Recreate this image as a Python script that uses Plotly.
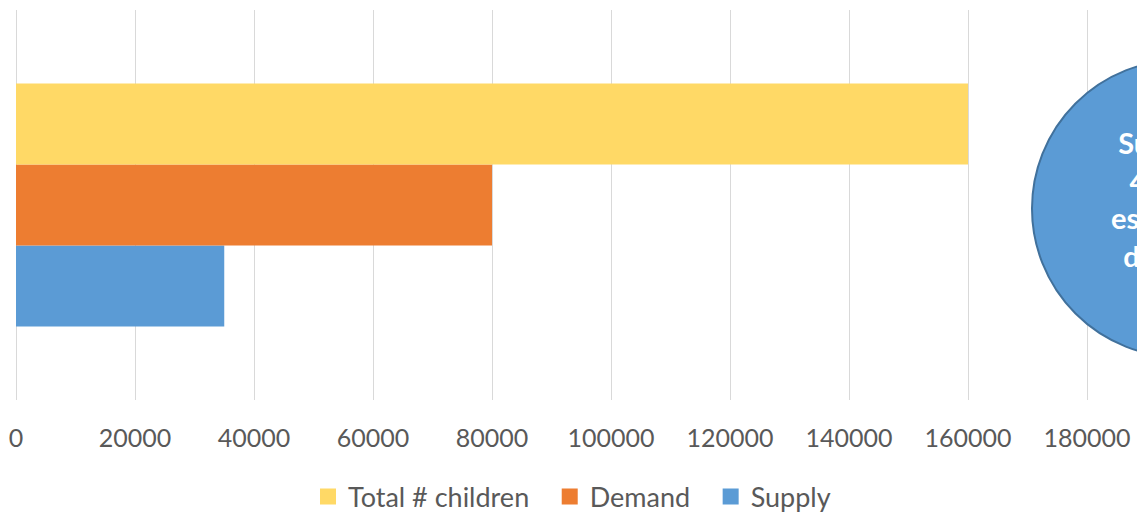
import plotly.graph_objects as go

categories = [""]
series_names = ["Supply", "Demand", "Total # children"]
supply = [35000]
demand = [80000]
total = [160000]
tick_vals = [0, 20000, 40000, 60000, 80000, 100000, 120000, 140000, 160000, 180000]
callout_text = "Supply is<br>44% of<br>estimated<br>demand"

colors = {"Supply": "#5B9BD5", "Demand": "#ED7D31", "Total # children": "#FFD966"}

W, H = 1137, 514
ml, mr, mt, mb = 16, 0, 10, 114
pw = W - ml - mr
ph = H - mt - mb
px_per_unit = 119 / 20000
xmax = pw / px_per_unit

fig = go.Figure()
for name, vals in zip(series_names, [supply, demand, total]):
    fig.add_trace(go.Bar(y=categories, x=vals, name=name, orientation="h",
                         marker=dict(color=colors[name], line=dict(width=0)),
                         showlegend=False))
# legend entries with larger square swatches
pad = "\u00a0\u00a0\u200a"
for i, name in enumerate(series_names):
    label = name if i == 0 else name + pad
    fig.add_trace(go.Scatter(x=[None], y=[None], mode="markers", name=label,
                             marker=dict(symbol="square", size=16, color=colors[name]),
                             showlegend=True, hoverinfo="skip"))

def px_x(p):
    return (p - ml) / pw

def px_y(p):
    return (H - mb - p) / ph

fig.add_shape(type="circle", xref="paper", yref="paper",
              x0=px_x(1032), x1=px_x(1329), y0=px_y(357), y1=px_y(60),
              fillcolor="#5B9BD5", line=dict(color="#41719C", width=2), layer="above")
fig.add_annotation(xref="paper", yref="paper", x=px_x(1175), y=px_y(199),
                   text=callout_text, showarrow=False, align="center",
                   font=dict(family="Lato", size=29, color="white", weight="bold"),
                   xanchor="center", yanchor="middle")

fig.update_layout(
    width=W, height=H,
    margin=dict(l=ml, r=mr, t=mt, b=mb, autoexpand=False),
    plot_bgcolor="white", paper_bgcolor="white",
    barmode="group", bargap=0.377, bargroupgap=0,
    font=dict(family="Lato", size=25, color="#595959"),
    showlegend=True,
    legend=dict(orientation="h", traceorder="reversed", x=px_x(572), xanchor="center",
                y=px_y(497), yanchor="middle", font=dict(size=27, color="#595959"),
                itemclick=False, itemsizing="trace", itemwidth=30),
    xaxis=dict(range=[0, xmax], tickvals=tick_vals, ticktext=[str(v) for v in tick_vals],
               showgrid=True, gridcolor="#D9D9D9", gridwidth=1.3,
               zeroline=True, zerolinecolor="#D9D9D9", zerolinewidth=1.3,
               showline=False, ticks="", ticklabelstandoff=21, automargin=False,
               tickfont=dict(size=25, color="#595959")),
    yaxis=dict(range=[-0.5, 0.5], showticklabels=False, showgrid=False, zeroline=False,
               showline=False, ticks="", automargin=False),
)

fig.write_html("out.html", config={"displayModeBar": False},
               post_script="document.body.style.margin='0';document.body.style.overflow='hidden';")
